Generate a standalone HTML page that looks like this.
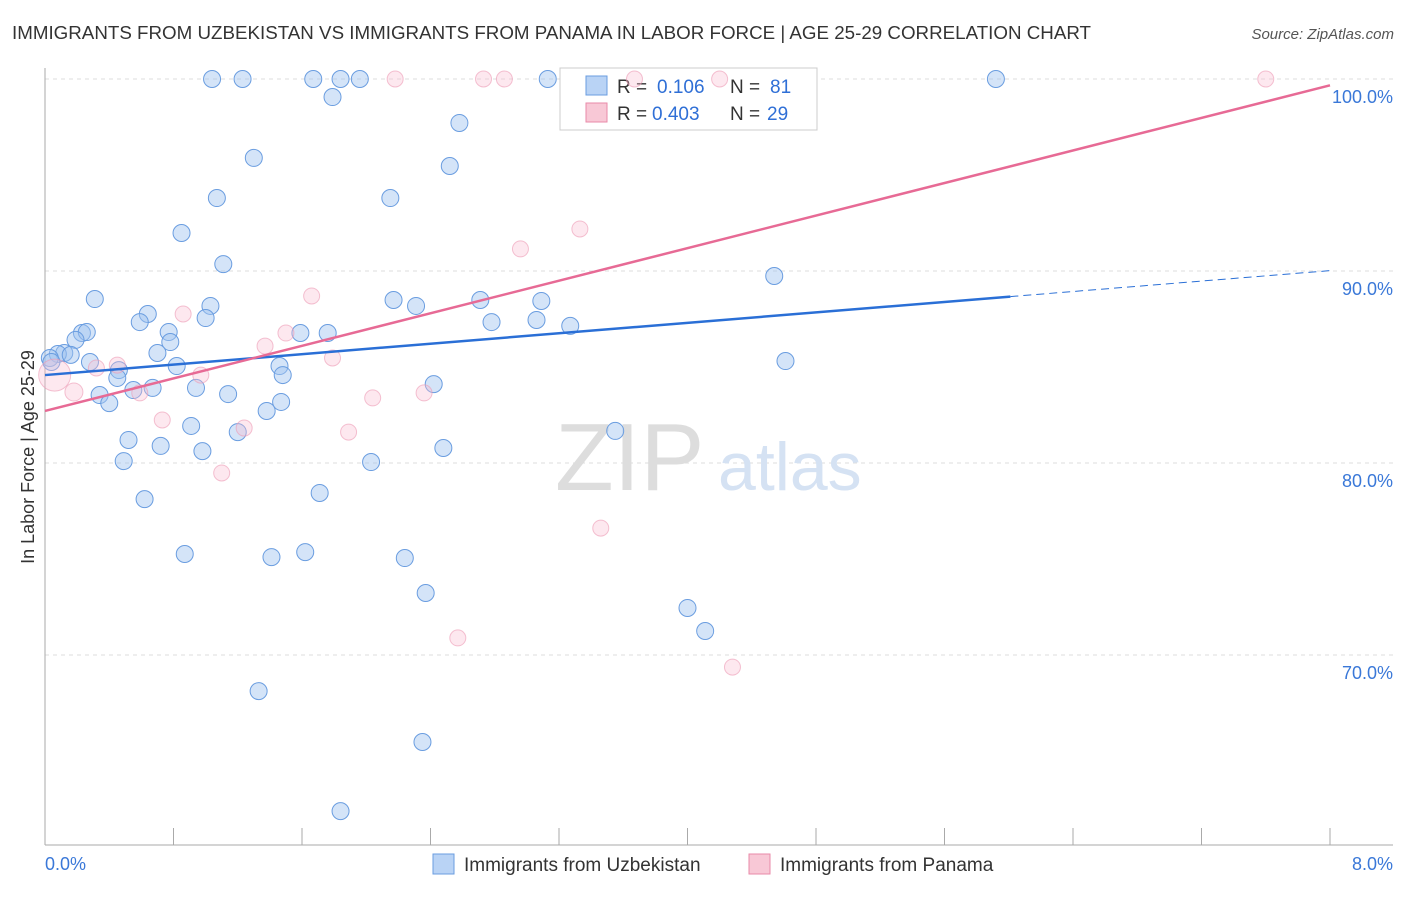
<!DOCTYPE html>
<html><head><meta charset="utf-8"><style>
body{margin:0;background:#fff;font-family:"Liberation Sans",sans-serif;}
svg text{font-family:"Liberation Sans",sans-serif;}
</style></head><body>
<svg id="chart" width="1406" height="892" xmlns="http://www.w3.org/2000/svg">
<text x="12" y="39" font-size="18" fill="#333" textLength="1079" lengthAdjust="spacingAndGlyphs">IMMIGRANTS FROM UZBEKISTAN VS IMMIGRANTS FROM PANAMA IN LABOR FORCE | AGE 25-29 CORRELATION CHART</text>
<text x="1394" y="39" font-size="15" fill="#555" text-anchor="end" font-style="italic">Source: ZipAtlas.com</text>
<g id="grid"></g>
<g id="axes"></g>
<text x="555" y="490" font-size="96" fill="#ddd" font-family="Liberation Serif">ZIP</text>
<text x="718" y="490" font-size="68" fill="#d5e2f3">atlas</text>
<g>
<rect x="560" y="68" width="257" height="62" fill="#fff" stroke="#ccc"/>
<rect x="586" y="76" width="21" height="19" fill="#b9d3f5" stroke="#6a9de0"/>
<rect x="586" y="103" width="21" height="19" fill="#f8c8d6" stroke="#e98aa8"/>
<text x="617" y="93" font-size="19" fill="#333">R = <tspan fill="#2f6fd6" x="657">0.106</tspan><tspan x="730">N = </tspan><tspan fill="#2f6fd6" x="770">81</tspan></text>
<text x="617" y="120" font-size="19" fill="#333">R = <tspan fill="#2f6fd6" x="652">0.403</tspan><tspan x="730">N = </tspan><tspan fill="#2f6fd6" x="767">29</tspan></text>
</g>
<g id="pts"></g>
<g id="lines"></g>
<text transform="translate(34,457) rotate(-90)" font-size="18" fill="#333" text-anchor="middle">In Labor Force | Age 25-29</text>
<g>
<rect x="433" y="854" width="21" height="20" fill="#b9d3f5" stroke="#6a9de0"/>
<text x="464" y="871" font-size="19" fill="#333">Immigrants from Uzbekistan</text>
<rect x="749" y="854" width="21" height="20" fill="#f8c8d6" stroke="#e98aa8"/>
<text x="780" y="871" font-size="19" fill="#333">Immigrants from Panama</text>
</g>
</svg>
<script>
const blueX=[1.04,1.23,1.67,1.84,1.96,3.13,5.92,1.79,2.58,1.30,2.52,1.07,2.15,0.85,1.11,4.54,0.31,2.17,2.31,2.71,3.09,1.03,0.64,1.00,0.59,2.78,3.06,3.27,0.77,0.23,0.26,1.59,1.76,0.19,0.78,0.70,0.12,0.08,0.16,0.03,0.04,0.28,4.61,0.82,1.46,0.46,1.48,0.45,2.42,0.55,0.67,0.94,0.34,1.14,0.40,1.47,1.38,0.91,1.20,0.52,0.72,2.48,3.55,0.98,0.49,2.03,1.71,0.62,0.87,1.41,1.62,2.24,2.37,4.00,4.11,1.33,2.35,1.84];
const blueY=[100,100,100,100,100,100,100,99.06,97.71,95.89,95.47,93.80,93.80,91.98,90.36,89.74,88.54,88.49,88.18,88.49,88.44,88.18,87.76,87.55,87.34,87.34,87.45,87.14,86.82,86.77,86.82,86.77,86.77,86.41,86.30,85.73,85.73,85.68,85.63,85.47,85.26,85.26,85.31,85.05,85.05,84.84,84.58,84.43,84.11,83.80,83.91,83.91,83.54,83.59,83.12,83.18,82.71,81.93,81.61,81.20,80.89,80.78,81.67,80.62,80.10,80.05,78.44,78.12,75.26,75.10,75.36,75.05,73.23,72.45,71.25,68.12,65.47,61.87];
const pinkX=[2.18,2.73,2.86,3.67,4.20,7.60,3.33,2.96,1.66,0.86,1.50,1.37,1.79,0.45,0.32,0.97,0.06,0.18,0.59,2.36,2.04,0.73,1.24,1.89,1.10,3.46,2.57,4.28];
const pinkY=[100,100,100,100,100,100,92.19,91.15,88.70,87.76,86.77,86.09,85.47,85.10,84.95,84.58,84.58,83.70,83.65,83.65,83.39,82.24,81.82,81.61,79.48,76.61,70.89,69.37];
const pinkR=[8,8,8,8,8,8,8,8,8,8,8,8,8,8,8,8,16,9,8,8,8,8,8,8,8,8,8,8];
const trendIntercept=[84.58,82.71];
const trendSlope=[0.68,2.12];
const yTicks=[100,90,80,70];
const yTickLabels=["100.0%","90.0%","80.0%","70.0%"];
const xTicks=[0,0.8,1.6,2.4,3.2,4,4.8,5.6,6.4,7.2,8];
const NS="http://www.w3.org/2000/svg";
const X=v=>45+v*1285/8, Y=v=>79+(100-v)*19.2;
function mk(p,t,a){const e=document.createElementNS(NS,t);for(const k in a)e.setAttribute(k,a[k]);document.getElementById(p).appendChild(e);return e;}
yTicks.forEach((v,i)=>{
 const l=mk('grid','line',{x1:45,x2:1393,y1:Y(v),y2:Y(v),stroke:'#ddd','stroke-dasharray':'4,4'});
 
 
 const t=mk('grid','text',{x:1393,y:Y(v)+24,'font-size':18,fill:'#3a78d8','text-anchor':'end'});
 t.textContent=yTickLabels[i];
 
 
});
mk('axes','line',{x1:45,x2:45,y1:68,y2:845,stroke:'#aaa'});
mk('axes','line',{x1:45,x2:1393,y1:845,y2:845,stroke:'#aaa'});
xTicks.forEach(v=>{const l=mk('axes','line',{x1:X(v),x2:X(v),y1:828,y2:845,stroke:'#aaa'});
 
 });
let t0=mk('axes','text',{x:45,y:870,'font-size':18,fill:'#3a78d8'});t0.textContent='0.0%';


let t1=mk('axes','text',{x:1393,y:870,'font-size':18,fill:'#3a78d8','text-anchor':'end'});t1.textContent='8.0%';


blueX.forEach((v,i)=>{const c=mk('pts','circle',{cx:X(v),cy:Y(blueY[i]),r:8.5,fill:'rgba(160,196,240,0.45)',stroke:'#6a9de0','stroke-width':1});
 
 });
pinkX.forEach((v,i)=>{const c=mk('pts','circle',{cx:X(v),cy:Y(pinkY[i]),r:pinkR[i],fill:'rgba(248,190,208,0.35)',stroke:'rgba(236,154,180,0.6)','stroke-width':1});
 
 });
const bEnd=6.01;
let b1=mk('lines','line',{x1:X(0),y1:Y(trendIntercept[0]),x2:X(bEnd),y2:Y(trendIntercept[0]+trendSlope[0]*bEnd),stroke:'#2a6fd6','stroke-width':2.5});


let b2=mk('lines','line',{x1:X(bEnd),y1:Y(trendIntercept[0]+trendSlope[0]*bEnd),x2:X(8),y2:Y(trendIntercept[0]+trendSlope[0]*8),stroke:'#2a6fd6','stroke-width':1,'stroke-dasharray':'8,5'});


let p1=mk('lines','line',{x1:X(0),y1:Y(trendIntercept[1]),x2:X(8),y2:Y(trendIntercept[1]+trendSlope[1]*8),stroke:'#e76a95','stroke-width':2.5});


</script>
</body></html>
